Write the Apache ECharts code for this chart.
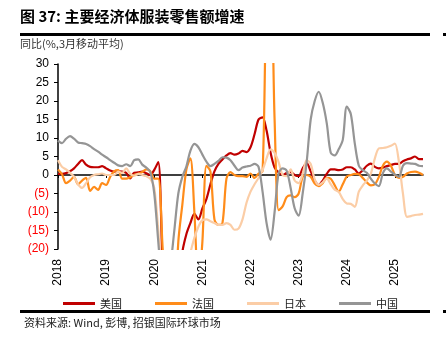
<!DOCTYPE html>
<html>
<head>
<meta charset="utf-8">
<script src="https://cdn.jsdelivr.net/npm/echarts@6/dist/echarts.min.js"></script>
<style>
  html, body { margin: 0; padding: 0; background: #fff; }
  #main { width: 446px; height: 352px; }
</style>
</head>
<body>
<div id="main"></div>
<script>
// 月度类目 2018-01 ~ 2025-08
var months = [];
for (var y = 2018; y <= 2025; y++) {
  for (var m = 1; m <= 12; m++) {
    if (y === 2025 && m > 8) break;
    months.push(y + '-' + (m < 10 ? '0' + m : m));
  }
}

var usData = [0.3,0.3,0.5,1.0,1.8,3.0,4.0,2.8,2.2,2.1,2.1,2.4,
  1.8,1.2,0.9,1.0,0.9,0.6,-0.9,0.6,0.7,0.9,0.5,0.0,
  1.4,3.5,-22,-45,-60,-55,-38,-21,-16,-13,-10.5,-12,
  -9,-6.5,-2.5,1,3,4.2,5.3,5.9,5.5,5.8,6.5,6.2,
  7.5,11,15,15.6,12,6,2.0,0.7,0,0.5,0.8,0,
  -0.3,1.8,3.2,1.0,-1.5,-2.7,-1.5,0.3,1.5,1.5,1.3,1.5,
  2.1,2.1,1.5,0.4,1.3,2.5,3.1,2.2,1.8,2.0,2.4,2.7,
  3.0,3.0,3.7,4.2,4.5,5.0,4.3,4.3];

var frData = [1.5,0.2,-2.2,-1.5,-0.5,-2.5,-1.5,-0.8,-4.3,-3.2,-4.0,-2.2,
  -2.7,-0.5,1.0,1.3,-1.0,-1.0,-0.6,0.0,0.3,0.8,1.5,1.0,
  -1.0,-1,-18,-40,-50,-40,-18,-8,1.5,4.5,-10,-30,
  -18,2.5,1,-12,-13.5,-13,-1,0.8,0.0,-0.3,-0.3,-0.5,
  0.4,-0.8,0.4,1,48,55,15,-9.5,-8.5,-6,-5.5,-6,
  -5,-0.5,0,-0.5,-2.3,-3,-2.2,-0.8,-1.0,-2.8,-4.5,-2.5,
  -0.4,0,0.3,0.2,-0.8,-2,-2.8,-2.5,-0.5,2.5,3.6,2.5,
  0,-0.8,-0.5,0.4,0.8,0.9,0.6,0];

var jpData = [4,2.2,1.5,0.6,-0.5,-2.5,-3.5,-2.2,-0.6,0,0.2,0.4,
  0,0,0,0.9,0.6,1.8,0.3,-0.2,0.3,0,-0.3,-1,
  -3.5,-15,-30,-45,-50,-40,-30,-25,-25,-21,-17,-14,
  -12.2,-12,-12.5,-13,-13.5,-13.5,-13,-13.5,-14.8,-14.5,-12,-7.5,
  -4.5,-2.5,-0.8,1.3,4.5,6.9,6,3.5,0,-0.3,1.5,-1.5,
  -2.2,0.3,4,3,-1.2,-2.7,-2,-0.9,-2.5,-4,-4.6,-6.5,
  -7.7,-7.8,-8.6,-4.5,-2.8,-1.5,0.4,4.5,7.2,7.3,7.5,7.9,
  8.5,3.5,-5,-11.3,-11.1,-10.8,-10.7,-10.5];

var cnData = [9.3,8.6,9.8,10.5,9.8,8.8,8.6,8.4,7.8,7.0,6.3,5.5,
  4.8,4.0,3.3,2.6,2.4,2.9,2.4,4.0,4.2,2.8,2.0,0.8,
  -5,-18,-30,-32,-25,-15,-5,-0.5,2.3,6.5,8.4,7.5,
  5.5,3.6,2.4,3.0,3.8,4.8,4.7,4.0,2.5,1.3,2.0,2.3,
  2.5,3.0,2.2,-4.5,-13,-17.5,-10,0.5,1.8,1.2,-3.5,-9,
  -11,-5,3.5,15,20,22.5,19.5,14,6,5.3,7,9.5,
  18.5,16.5,8.5,2.5,1.3,0.6,-1,-2.3,-3,0.5,1.8,0.9,
  0.1,-0.5,2.5,3.2,3.1,3,2.5,2.4];

var names = ['美国', '法国', '日本', '中国'];
var colors = ['#C00000', '#FF8C1A', '#FBCDA6', '#959595'];

var myChart = echarts.init(document.getElementById('main'));

var cjk = '"Noto Sans CJK SC", sans-serif';
var latin = '"Liberation Sans", Arial, sans-serif';

function mkSeries(name, data, color) {
  return {
    name: name,
    type: 'line',
    data: data,
    xAxisIndex: 0,
    smooth: 0.3,
    showSymbol: false,
    lineStyle: { color: color, width: 2.2 },
    itemStyle: { color: color }
  };
}

myChart.setOption({
  animation: false,
  color: colors,
  grid: { left: 58, right: 23, top: 64, bottom: 103 },
  legend: {
    data: names,
    left: 58,
    top: 293,
    icon: 'rect',
    itemWidth: 32,
    itemHeight: 3,
    itemGap: 33,
    textStyle: { fontFamily: cjk, fontSize: 11, color: '#222' }
  },
  xAxis: [{
    type: 'category',
    data: months,
    boundaryGap: false,
    axisLine: { show: false, onZero: false },
    axisTick: { show: false },
    axisLabel: {
      rotate: 90,
      margin: 10,
      fontFamily: latin,
      fontSize: 12,
      color: '#000',
      interval: function (idx) { return idx % 12 === 0; },
      formatter: function (v) { return v.slice(0, 4); }
    },
    splitLine: { show: false }
  }, {
    type: 'category',
    data: months,
    boundaryGap: false,
    position: 'top',
    axisLine: { show: true, onZero: true, lineStyle: { color: '#000', width: 1.5 } },
    axisTick: {
      show: true, inside: true, length: 3,
      interval: function (idx) { return idx % 12 === 0; },
      lineStyle: { color: '#000' }
    },
    axisLabel: { show: false },
    splitLine: { show: false }
  }],
  yAxis: {
    type: 'value',
    min: -20,
    max: 30,
    interval: 5,
    axisLine: { show: true, lineStyle: { color: '#000', width: 1.5 } },
    axisTick: { show: true, length: 4, lineStyle: { color: '#000' } },
    splitLine: { show: false },
    axisLabel: {
      margin: 9,
      fontFamily: latin,
      fontSize: 12,
      color: function (v) { return Number(v) < 0 ? '#FF0000' : '#000'; },
      formatter: function (v) { return v < 0 ? '(' + (-v) + ')' : v; }
    }
  },
  series: [
    mkSeries(names[0], usData, colors[0]),
    mkSeries(names[1], frData, colors[1]),
    mkSeries(names[2], jpData, colors[2]),
    mkSeries(names[3], cnData, colors[3])
  ],
  graphic: [
    { type: 'text', left: 20, top: 9,
      style: { text: '图 37: 主要经济体服装零售额增速', font: 'bold 15px ' + cjk, fill: '#000' } },
    { type: 'rect', shape: { x: 20, y: 33, width: 410, height: 3 }, style: { fill: '#000' } },
    { type: 'rect', shape: { x: 443, y: 33, width: 3, height: 3 }, style: { fill: '#000' } },
    { type: 'text', left: 20, top: 38,
      style: { text: '同比(%,3月移动平均)', font: '11px ' + cjk, fill: '#333' } },
    { type: 'rect', shape: { x: 20, y: 310, width: 410, height: 3 }, style: { fill: '#000' } },
    { type: 'rect', shape: { x: 443, y: 310, width: 3, height: 3 }, style: { fill: '#000' } },
    { type: 'text', left: 24, top: 317,
      style: { text: '资料来源: Wind, 彭博, 招银国际环球市场', font: '11px ' + cjk, fill: '#222' } }
  ]
});
</script>
</body>
</html>
